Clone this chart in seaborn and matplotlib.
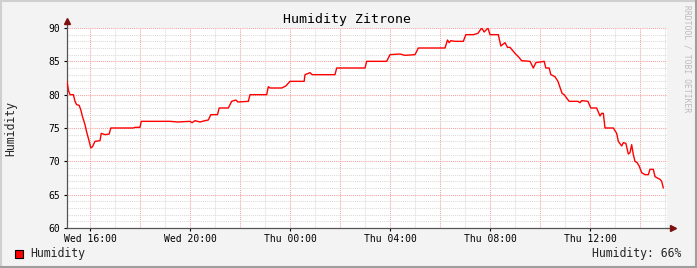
import matplotlib
matplotlib.use("Agg")
import matplotlib.pyplot as plt
import matplotlib.dates as mdates
from matplotlib.patches import Rectangle
from matplotlib.lines import Line2D
import numpy as np
import pandas as pd
import seaborn as sns

# ---- data ----
day1 = "2024-05-15"  # Wednesday
day2 = "2024-05-16"  # Thursday
times_wed = ["15:05", "15:08", "15:12", "15:20", "15:24", "15:28", "15:34", "15:38", "15:42", "15:48",
             "15:52", "15:58", "16:02", "16:06", "16:12", "16:24", "16:27", "16:36", "16:46", "16:50",
             "17:44", "17:48", "18:00", "18:03", "18:48", "19:12", "19:31", "20:00", "20:05", "20:12",
             "20:24", "20:36", "20:44", "20:50", "21:06", "21:10", "21:32", "21:40", "21:50", "21:55",
             "22:20", "22:24", "23:04", "23:08", "23:12", "23:40", "23:50"]
values_wed = [82, 80.7, 80, 80, 79, 78.5, 78.4, 77.7, 76.7, 75.5,
              74.4, 73, 72, 72.2, 73, 73.1, 74.2, 74, 74.1, 75,
              75, 75.1, 75.1, 76, 76, 76, 75.9, 76, 75.8, 76.1,
              75.9, 76.1, 76.2, 77, 77, 78, 78, 79, 79.2, 78.9,
              79, 80, 80, 81.2, 81, 81, 81.3]
times_thu = ["00:00", "00:34", "00:36", "00:48", "00:53", "01:48", "01:52", "03:00", "03:04", "03:52",
             "04:00", "04:24", "04:36", "05:00", "05:08", "06:12", "06:18", "06:22", "06:26", "06:36",
             "06:56", "07:02", "07:20", "07:31", "07:40", "07:46", "07:55", "08:00", "08:20", "08:26",
             "08:36", "08:42", "08:48", "09:00", "09:08", "09:16", "09:36", "09:44", "09:50", "10:10",
             "10:14", "10:22", "10:26", "10:36", "10:43", "10:53", "10:58", "11:05", "11:10", "11:31",
             "11:36", "11:40", "11:55", "12:02", "12:16", "12:24", "12:28", "12:32", "12:36", "12:56",
             "13:04", "13:08", "13:16", "13:20", "13:26", "13:32", "13:36", "13:40", "13:44", "13:48",
             "13:53", "13:58", "14:04", "14:12", "14:20", "14:24", "14:32", "14:36", "14:48", "14:52",
             "14:56"]
values_thu = [82, 82, 83, 83.3, 83, 83, 84, 84, 85, 85,
              86, 86.1, 85.9, 86, 87, 87, 88.2, 87.8, 88.1, 88,
              88, 89, 89, 89.2, 90, 89.4, 90, 89, 89, 87.3,
              87.8, 87.1, 87.1, 86.2, 85.7, 85.1, 85, 84, 84.8, 85,
              84, 84, 83, 82.7, 82, 80.2, 80, 79.4, 79, 79,
              78.8, 79.1, 79, 78, 78, 76.8, 77.2, 77.2, 75, 75,
              74.2, 73, 72.3, 72.8, 72.7, 71.1, 71.3, 72.5, 71, 70,
              69.8, 69.3, 68.3, 68, 68, 68.8, 68.8, 67.7, 67.3, 67,
              66]
series_name = "Humidity"
title = "Humidity Zitrone"
y_label = "Humidity"
last_value_text = "Humidity: 66%"

times = pd.to_datetime([f"{day1} {t}" for t in times_wed] + [f"{day2} {t}" for t in times_thu])
df = pd.DataFrame({"time": times, "value": values_wed + values_thu})

# ---- style ----
sns.set_theme(style="white")
plt.rcParams["font.family"] = ["DejaVu Sans Mono", "DejaVu Sans"]

W, H = 697, 268
fig = plt.figure(figsize=(W / 100, H / 100), dpi=100, facecolor="#F3F3F3")
L, R, T, B = 67, 667, 28, 228
ax = fig.add_axes([L / W, 1 - B / H, (R - L) / W, (B - T) / H])
ax.set_facecolor("white")

x0 = pd.Timestamp(f"{day1} 15:04:48")
x1 = pd.Timestamp(f"{day2} 15:04:48")

# grid
minor_col = "#DADADA"
major_col = "#F4A0A0"
dot = (0, (1, 1))
hours = pd.date_range(f"{day1} 16:00", f"{day2} 15:00", freq="1h")
for h in hours:
    if h.hour % 2 == 0:
        ax.axvline(h, color=major_col, lw=0.75, ls=dot, zorder=1)
    else:
        ax.axvline(h, color=minor_col, lw=0.75, ls=dot, zorder=1)
for v in range(61, 91):
    if v % 5 == 0:
        ax.axhline(v, color=major_col, lw=0.75, ls=dot, zorder=1)
    else:
        ax.axhline(v, color=minor_col, lw=0.75, ls=dot, zorder=1)

sns.lineplot(data=df, x="time", y="value", ax=ax, color="#FF0000", lw=1.0, zorder=3, legend=False)

ax.set_xlim(x0, x1)
ax.set_ylim(60, 90)
ax.set_xlabel("")
ax.set_ylabel("")

ax.xaxis.set_major_locator(mdates.HourLocator(byhour=[0, 4, 8, 12, 16, 20]))
ax.xaxis.set_major_formatter(mdates.DateFormatter("%a %H:%M"))
ax.set_yticks(range(60, 91, 5))
ax.tick_params(axis="both", labelsize=7, colors="#000000", length=2, width=0.8, pad=3,
               direction="out", bottom=True, left=True)
ax.tick_params(axis="x", pad=2)

for s in ["top", "right"]:
    ax.spines[s].set_visible(False)
for s in ["left", "bottom"]:
    ax.spines[s].set_color("#555555")
    ax.spines[s].set_linewidth(0.9)

# axis extension + arrows
ax.add_line(Line2D([0, 0], [1, 1.035], transform=ax.transAxes, color="#555555", lw=0.9, clip_on=False))
ax.add_line(Line2D([1, 1.008], [0, 0], transform=ax.transAxes, color="#555555", lw=0.9, clip_on=False))
ax.plot([0], [1.035], marker="^", ms=4, color="#7F1010", transform=ax.transAxes, clip_on=False)
ax.plot([1.01], [0], marker=">", ms=4, color="#7F1010", transform=ax.transAxes, clip_on=False)

# texts
fig.text(347 / W, 1 - 19 / H, title, ha="center", va="center", fontsize=9.5, color="#000000")
fig.text(11 / W, 1 - 128 / H, y_label, ha="center", va="center", rotation=90, fontsize=8.3)
fig.text(687 / W, 1 - 59 / H, "RRDTOOL / TOBI OETIKER", ha="center", va="center",
         rotation=270, fontsize=5.8, color="#BBBBBB")

# legend
fig.patches.append(Rectangle((15 / W, 1 - 258 / H), 8 / W, 8 / H, transform=fig.transFigure,
                             facecolor="#FF0000", edgecolor="#000000", lw=0.8))
fig.text(30 / W, 1 - 254 / H, series_name, ha="left", va="center", fontsize=8.3)
fig.text(681 / W, 1 - 254 / H, last_value_text, ha="right", va="center", fontsize=8.3)

# 3D frame
fig.add_artist(Line2D([0, 1], [1 - 1 / H, 1 - 1 / H], transform=fig.transFigure, color="#CFCFCF", lw=1.5))
fig.add_artist(Line2D([1 / W, 1 / W], [0, 1], transform=fig.transFigure, color="#CFCFCF", lw=1.5))
fig.add_artist(Line2D([0, 1], [1 / H, 1 / H], transform=fig.transFigure, color="#9E9E9E", lw=1.5))
fig.add_artist(Line2D([1 - 1 / W, 1 - 1 / W], [0, 1], transform=fig.transFigure, color="#9E9E9E", lw=1.5))

fig.savefig("out.png", dpi=100, facecolor=fig.get_facecolor())
